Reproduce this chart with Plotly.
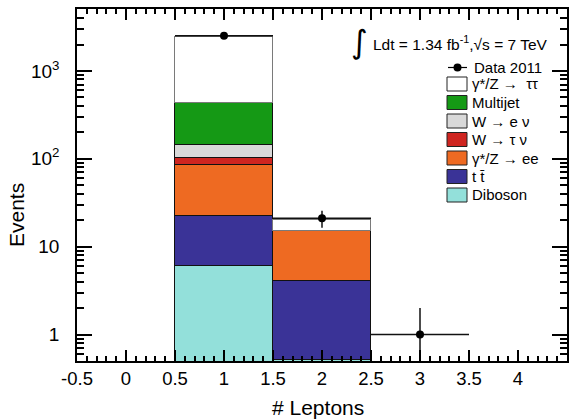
import plotly.graph_objects as go

# Lepton multiplicity bins (bin centres, width 1)
bin_centers = [1, 2, 3]
bin_half_width = [0.5, 0.5, 0.5]

# Observed data and its statistical uncertainty
data_counts = [2520, 21, 1]
data_errors = [50, 4.6, 1.0]

# Expected contributions per bin (None = no entry in that bin)
diboson = [6.0, 0.52, None]
ttbar = [16.5, 3.56, None]
zee = [62.3, 11.1, None]
wtaunu = [17.2, None, None]
wenu = [43.0, None, None]
multijet = [291.0, None, None]
ztautau = [2020.0, 5.1, None]

# Stack order: bottom first
stack = [
    ("Diboson", diboson, "#93e0da", "#111111"),
    ("t t\u0304", ttbar, "#3a3397", "#111111"),
    ("\u03b3*/Z \u2192 ee", zee, "#ee6a22", "#111111"),
    ("W \u2192 \u03c4 \u03bd", wtaunu, "#cf2520", "#111111"),
    ("W \u2192 e \u03bd", wenu, "#d9d9d9", "#111111"),
    ("Multijet", multijet, "#159915", "#111111"),
    ("\u03b3*/Z \u2192  \u03c4\u03c4", ztautau, "#ffffff", "#7a7a7a"),
]

x_tickvals = [-0.5, 0, 0.5, 1, 1.5, 2, 2.5, 3, 3.5, 4, 4.5]
x_ticktext = ["-0.5", "0", "0.5", "1", "1.5", "2", "2.5", "3", "3.5", "4", "4.5"]
x_minor = [round(-0.5 + 0.1 * k, 1) for k in range(51) if k % 5]
y_tickvals = [1, 10, 100, 1000]
y_ticktext = ["1", "10", "10<sup>2</sup>", "10<sup>3</sup>"]
y_minor = [0.6, 0.7, 0.8, 0.9] + [m * 10 ** d for d in range(0, 4) for m in range(2, 6 if d == 3 else 10)]

X_RANGE = [-0.5, 4.5]
Y_RANGE_LOG = [-0.301, 3.705]

FONT = "Liberation Sans, Arial, Helvetica, sans-serif"
W, H = 578, 420
ML, MR, MT, MB = 77, 11, 9, 59
PW, PH = W - ML - MR, H - MT - MB


def px(x):
    return (x - ML) / PW


def py(y):
    return (H - MB - y) / PH


fig = go.Figure()

for name, vals, color, edge in stack:
    fig.add_trace(go.Bar(
        x=bin_centers, y=vals, width=1, name=name,
        marker=dict(color=color, line=dict(color=edge, width=1.2)),
        showlegend=False,
    ))

fig.add_trace(go.Scatter(
    x=bin_centers, y=data_counts, mode="markers", name="Data 2011",
    marker=dict(color="black", size=8),
    error_x=dict(type="data", array=bin_half_width, width=0, thickness=1.5, color="#111111"),
    error_y=dict(type="data", array=data_errors, width=0, thickness=1.5, color="#111111"),
    showlegend=False,
))

shapes = []
annotations = []

# Hand-built legend box in the upper right
row0 = 67.5
first_box = 84.0
step = 18.5
shapes.append(dict(type="line", xref="paper", yref="paper",
                   x0=px(448), x1=px(467), y0=py(row0), y1=py(row0),
                   line=dict(color="black", width=1.2)))
shapes.append(dict(type="circle", xref="paper", yref="paper",
                   x0=px(453.5), x1=px(461.5), y0=py(row0 + 4), y1=py(row0 - 4),
                   fillcolor="black", line=dict(color="black", width=0)))
annotations.append(dict(text="Data 2011", x=px(472), y=py(row0), xref="paper", yref="paper",
                        xanchor="left", yanchor="middle", showarrow=False,
                        font=dict(size=15, family=FONT, color="black")))
for i, (name, vals, color, edge) in enumerate(reversed(stack)):
    yc = first_box + i * step
    shapes.append(dict(type="rect", xref="paper", yref="paper",
                       x0=px(447), x1=px(467), y0=py(yc + 7), y1=py(yc - 7),
                       fillcolor=color, line=dict(color="#222222", width=1)))
    annotations.append(dict(text=name, x=px(470), y=py(yc), xref="paper", yref="paper",
                            xanchor="left", yanchor="middle", showarrow=False,
                            font=dict(size=15, family=FONT, color="black")))

# Luminosity / energy label
annotations.append(dict(text="\u222b", x=px(359), y=py(42), xref="paper", yref="paper",
                        xanchor="center", yanchor="middle", showarrow=False,
                        font=dict(size=32, family="DejaVu Sans", color="black")))
annotations.append(dict(text="Ldt = 1.34 fb<sup>-1</sup>,\u221as = 7 TeV", x=px(371), y=py(43),
                        xref="paper", yref="paper", xanchor="left", yanchor="middle",
                        showarrow=False, font=dict(size=15.5, family=FONT, color="black")))

# Axis titles
annotations.append(dict(text="Events", x=px(16), y=py(215), xref="paper", yref="paper",
                        xanchor="center", yanchor="middle", textangle=-90, showarrow=False,
                        font=dict(size=21, family=FONT, color="black")))
annotations.append(dict(text="# Leptons", x=px(318), y=py(407), xref="paper", yref="paper",
                        xanchor="center", yanchor="middle", showarrow=False,
                        font=dict(size=21, family=FONT, color="black")))

common = dict(showgrid=False, zeroline=False, automargin=False,
              showline=True, linecolor="black", linewidth=1.5, mirror="ticks",
              ticks="inside", tickwidth=1.5, tickcolor="#000000")

fig.update_layout(
    template="none",
    width=W, height=H, autosize=False,
    margin=dict(l=ML, r=MR, t=MT, b=MB),
    paper_bgcolor="white", plot_bgcolor="white",
    barmode="stack", bargap=0,
    font=dict(family=FONT, color="black"),
    shapes=shapes, annotations=annotations,
    showlegend=False,
    xaxis=dict(
        range=X_RANGE, ticklen=11, tickmode="array", tickvals=x_tickvals, ticktext=x_ticktext,
        tickfont=dict(size=18.5, family=FONT, color="black"),
        minor=dict(ticks="inside", ticklen=5, tickwidth=1.5, tickcolor="#000000",
                   tickmode="array", tickvals=x_minor),
        **common,
    ),
    yaxis=dict(
        type="log", range=Y_RANGE_LOG, ticklen=15, tickmode="array",
        tickvals=y_tickvals, ticktext=y_ticktext,
        tickfont=dict(size=19, family=FONT, color="black"), ticklabelstandoff=12,
        minor=dict(ticks="inside", ticklen=7, tickwidth=1.5, tickcolor="#000000",
                   tickmode="array", tickvals=y_minor),
        **common,
    ),
)

fig.write_html("out.html")
